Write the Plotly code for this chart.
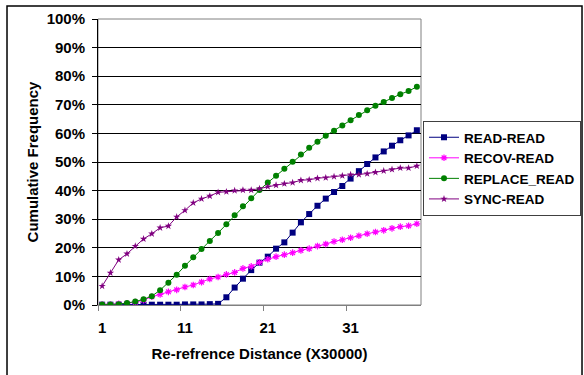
import plotly.graph_objects as go

# Re-reference distance buckets (units of 30000)
distance = list(range(1, 40))

# Cumulative frequency (%) per access pattern
read_read = [0.1, 0.1, 0.1, 0.1, 0.1, 0.1, 0.1, 0.1, 0.1, 0.1, 0.2, 0.2, 0.2, 0.3, 0.4,
             2.7, 6.1, 9.2, 12.2, 14.8, 16.9, 19.7, 21.9, 25.3, 28.9, 31.8, 34.7, 37.2,
             39.5, 41.6, 44.2, 46.8, 49.3, 51.6, 53.7, 55.7, 57.6, 59.3, 61.1]
recov_read = [0.2, 0.2, 0.4, 0.6, 1.0, 1.7, 2.9, 3.7, 4.6, 5.3, 6.3, 7.0, 8.0, 9.1, 9.8,
              10.7, 11.4, 12.8, 13.5, 14.9, 16.0, 16.9, 17.6, 18.3, 19.1, 19.7, 20.6, 21.3,
              22.2, 22.8, 23.5, 24.2, 24.9, 25.5, 26.1, 26.8, 27.4, 27.7, 28.4]
replace_read = [0.2, 0.2, 0.3, 0.7, 1.2, 2.0, 3.1, 5.2, 7.8, 10.6, 13.7, 16.7, 19.6, 22.4,
                25.2, 28.2, 31.4, 34.5, 37.3, 40.2, 42.8, 45.2, 47.6, 50.1, 52.6, 55.0, 57.1,
                59.2, 60.9, 62.8, 64.6, 66.4, 68.1, 69.7, 71.0, 72.4, 73.7, 74.8, 76.3]
sync_read = [6.6, 11.2, 15.8, 17.9, 20.6, 23.1, 24.9, 27.0, 27.6, 30.8, 33.1, 35.7, 37.1,
             38.1, 39.4, 39.6, 40.0, 40.2, 40.2, 40.7, 41.4, 41.9, 42.4, 42.8, 43.6, 43.8,
             44.3, 44.5, 44.9, 45.2, 45.6, 45.6, 45.9, 46.4, 46.9, 47.4, 47.9, 47.9, 48.6]

x_ticks = [1, 11, 21, 31]
y_ticks = list(range(0, 101, 10))

FONT = "Arial, 'Liberation Sans', sans-serif"

series = [
    ("READ-READ", read_read, "#000080", dict(symbol="square", size=6)),
    ("RECOV-READ", recov_read, "#FF00FF", dict(symbol="asterisk-open", size=5.5,
                                                line=dict(width=1.2, color="#FF00FF"))),
    ("REPLACE_READ", replace_read, "#008000", dict(symbol="circle", size=6)),
    ("SYNC-READ", sync_read, "#800080", dict(symbol="star", size=5.5)),
]

fig = go.Figure()
for name, vals, color, mk in series:
    fig.add_trace(go.Scatter(
        x=distance, y=vals, name=name, mode="lines+markers",
        line=dict(color=color, width=1),
        marker=dict(color=color, **mk),
    ))

# plot-area frame and outer chart frame
fig.add_shape(type="rect", xref="paper", yref="paper", x0=0, x1=1, y0=0, y1=1,
              line=dict(color="#808080", width=1), layer="below")
fig.add_shape(type="rect", xref="paper", yref="paper",
              x0=-0.2817, x1=1.4985, y0=-0.27, y1=1.0455,
              line=dict(color="black", width=1.5), layer="below")

fig.update_layout(
    width=584, height=375,
    margin=dict(l=98, r=163, t=19, b=70, autoexpand=False),
    paper_bgcolor="white", plot_bgcolor="white",
    font=dict(family=FONT, size=15, color="black"),
    showlegend=True,
    legend=dict(
        x=1.0062, y=0.6434, xanchor="left", yanchor="top",
        bgcolor="white", bordercolor="#404040", borderwidth=1,
        font=dict(family=FONT, size=13.5, color="black", weight="bold"),
        tracegroupgap=0, itemwidth=30,
    ),
    xaxis=dict(
        range=[0.5, 39.5], tickmode="array", tickvals=x_ticks,
        ticktext=[str(v) for v in x_ticks], ticks="",
        showgrid=False, zeroline=False,
        showline=True, linecolor="#808080", linewidth=1,
        tickfont=dict(family=FONT, size=15, weight="bold"),
        ticklabelstandoff=9,
        minor=dict(ticks="outside", tick0=0.5, dtick=10, ticklen=5,
                   tickcolor="#808080", showgrid=False),
        title=dict(text="Re-refrence Distance (X30000)", standoff=13,
                   font=dict(family=FONT, size=15, weight="bold")),
    ),
    yaxis=dict(
        range=[0, 100], tickmode="array", tickvals=y_ticks,
        ticktext=[f"{v}%" for v in y_ticks],
        ticks="outside", ticklen=5, tickcolor="black",
        showgrid=True, gridcolor="black", gridwidth=1, zeroline=False,
        showline=True, linecolor="black", linewidth=1,
        tickfont=dict(family=FONT, size=15, weight="bold"),
        ticklabelstandoff=4,
        title=dict(text="Cumulative Frequency", standoff=4,
                   font=dict(family=FONT, size=15, weight="bold")),
    ),
)

fig.write_html("out.html")
